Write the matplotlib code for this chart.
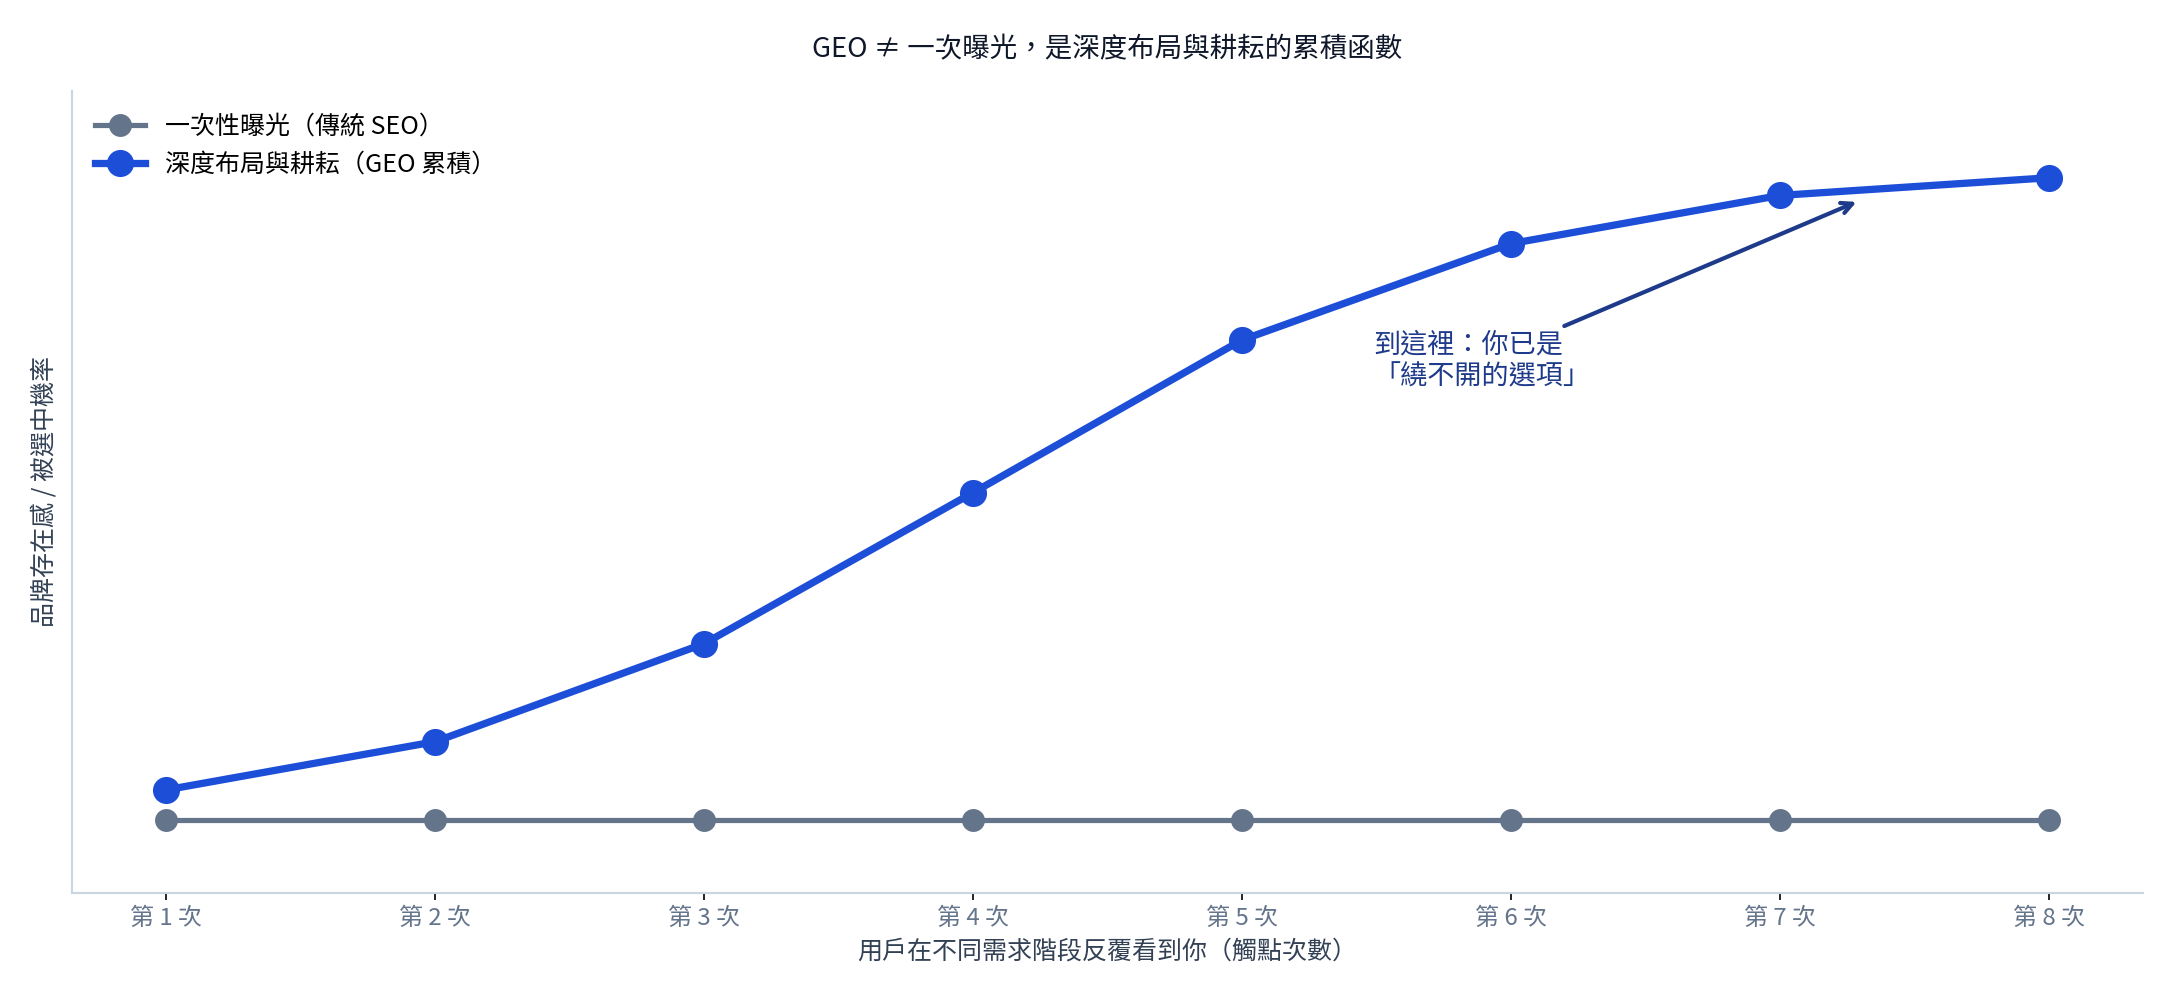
import matplotlib
matplotlib.use("Agg")
import matplotlib.pyplot as plt

plt.rcParams['font.family'] = ['Noto Sans CJK TC', 'DejaVu Sans']

# 資料
touches = [1, 2, 3, 4, 5, 6, 7, 8]
tick_labels = ["第 1 次", "第 2 次", "第 3 次", "第 4 次", "第 5 次", "第 6 次", "第 7 次", "第 8 次"]
one_shot = [1.0, 1.0, 1.0, 1.0, 1.0, 1.0, 1.0, 1.0]
geo_cumulative = [1.19, 1.49, 2.10, 3.04, 3.99, 4.59, 4.89, 5.0]

blue = "#1d4ed8"
gray = "#64748b"

fig = plt.figure(figsize=(14.52, 6.72), dpi=150)
ax = fig.add_axes([0.0331, 0.1144, 0.9507, 0.7953])

ax.plot(touches, one_shot, color=gray, lw=2.5, marker='o', markersize=10,
        label="一次性曝光（傳統 SEO）")
ax.plot(touches, geo_cumulative, color=blue, lw=3.5, marker='o', markersize=12,
        label="深度布局與耕耘（GEO 累積）")

ax.annotate("到這裡：你已是\n「繞不開的選項」", xy=(7.3, 4.86), xytext=(5.49, 3.86),
            ha='left', va='center', fontsize=13, color="#1e3a8a",
            arrowprops=dict(arrowstyle='->', color="#1e3a8a", lw=2))

ax.set_ylim(0.55, 5.54)
ax.set_xticks(touches)
ax.set_xticklabels(tick_labels, fontsize=11.5, color=gray)
ax.set_yticks([])

ax.spines['top'].set_visible(False)
ax.spines['right'].set_visible(False)
for s in ['left', 'bottom']:
    ax.spines[s].set_color("#cbd5e1")
    ax.spines[s].set_linewidth(1)

ax.set_title("GEO ≠ 一次曝光，是深度布局與耕耘的累積函數", fontsize=13.2,
             color="#0f172a", pad=16)
ax.set_xlabel("用戶在不同需求階段反覆看到你（觸點次數）", fontsize=12, color="#334155")
ax.set_ylabel("品牌存在感 / 被選中機率", fontsize=12, color="#334155", labelpad=7)

ax.legend(loc='upper left', frameon=False, fontsize=12)

fig.savefig("out.png", dpi=150)
